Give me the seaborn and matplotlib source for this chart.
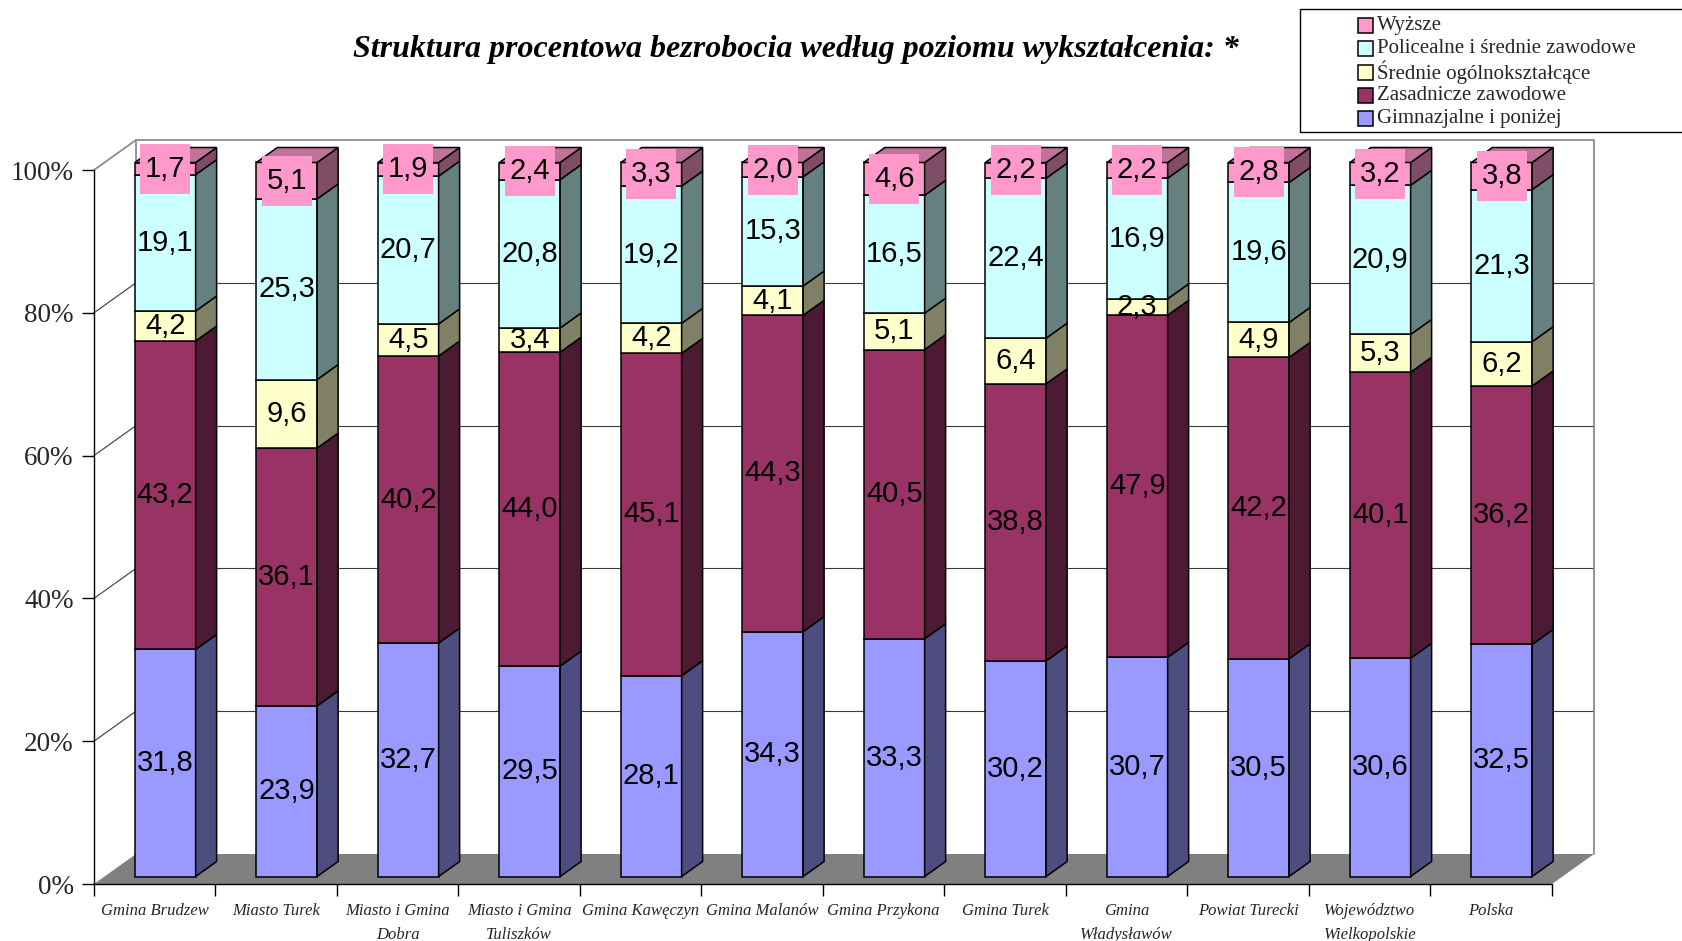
import numpy as np
import pandas as pd
import matplotlib
matplotlib.use("Agg")
import matplotlib.pyplot as plt
from matplotlib.patches import Polygon, Rectangle
from matplotlib.lines import Line2D
from matplotlib.transforms import ScaledTranslation
import seaborn as sns

# ---- data -----------------------------------------------------------------
categories = [
    "Gmina Brudzew", "Miasto Turek", "Miasto i Gmina\nDobra",
    "Miasto i Gmina\nTuliszków", "Gmina Kawęczyn", "Gmina Malanów",
    "Gmina Przykona", "Gmina Turek", "Gmina\nWładysławów",
    "Powiat Turecki", "Województwo\nWielkopolskie", "Polska",
]
gimnazjalne = [31.8, 23.9, 32.7, 29.5, 28.1, 34.3, 33.3, 30.2, 30.7, 30.5, 30.6, 32.5]
zasadnicze = [43.2, 36.1, 40.2, 44.0, 45.1, 44.3, 40.5, 38.8, 47.9, 42.2, 40.1, 36.2]
srednie_ogolne = [4.2, 9.6, 4.5, 3.4, 4.2, 4.1, 5.1, 6.4, 2.3, 4.9, 5.3, 6.2]
policealne = [19.1, 25.3, 20.7, 20.8, 19.2, 15.3, 16.5, 22.4, 16.9, 19.6, 20.9, 21.3]
wyzsze = [1.7, 5.1, 1.9, 2.4, 3.3, 2.0, 4.6, 2.2, 2.2, 2.8, 3.2, 3.8]

series_names = [
    "Gimnazjalne i poniżej", "Zasadnicze zawodowe", "Średnie ogólnokształcące",
    "Policealne i średnie zawodowe", "Wyższe",
]
series_values = [gimnazjalne, zasadnicze, srednie_ogolne, policealne, wyzsze]
y_ticks = [0, 20, 40, 60, 80, 100]
title = "Struktura procentowa bezrobocia według poziomu wykształcenia: *"

# ---- style ------------------------------------------------------------------
front_colors = ["#9999FF", "#993366", "#FFFFCC", "#CCFFFF", "#FF99CC"]
side_colors = ["#4D4D80", "#4D1A33", "#808066", "#668080", "#804D66"]
top_color = "#BF7399"
grid_color = "#3A3A3A"
wall_color = "#8C8C8C"
floor_color = "#808080"

sns.set_style("white")
plt.rcParams["font.family"] = ["Liberation Serif", "DejaVu Serif"]

W, H, DPI = 1683, 941, 100
fig = plt.figure(figsize=(W / DPI, H / DPI), dpi=DPI, facecolor="white")

# front plane of the plot in pixels (origin top-left)
AX_L, AX_R, AX_B, AX_T = 94, 1552, 884, 170
ax = fig.add_axes([AX_L / W, 1 - AX_B / H, (AX_R - AX_L) / W, (AX_B - AX_T) / H])
ax.patch.set_visible(False)

n = len(categories)
ux = (AX_R - AX_L) / n       # pixels per category
uy = (AX_B - AX_T) / 100.0   # pixels per percent


def px(dx, dy):
    """pixel offset -> data offset (dy positive = up)"""
    return dx / ux, dy / uy


wdx, wdy = px(42, 30)       # full depth of the chart box
fdx, fdy = px(10.5, 7.5)    # bar front face offset from front plane
bdx, bdy = px(21, 15)       # bar depth
bar_w = 0.5
lw_edge = 1.1

# ---- back wall, side wall, floor ----------------------------------------
x0, x1 = -0.5, n - 0.5
for v in y_ticks[1:-1]:
    ax.add_line(Line2D([x0 + wdx, x1 + wdx], [v + wdy, v + wdy], color=grid_color,
                       lw=0.8, zorder=0.5, clip_on=False))
    ax.add_line(Line2D([x0, x0 + wdx], [v, v + wdy], color=grid_color,
                       lw=0.8, zorder=0.5, clip_on=False))
ax.add_line(Line2D([x0, x0 + wdx, x1 + wdx, x1 + wdx],
                   [100, 100 + wdy, 100 + wdy, wdy], color=wall_color,
                   lw=1.3, zorder=0.6, clip_on=False))
ax.add_line(Line2D([x0 + wdx, x0 + wdx], [wdy, 100 + wdy], color=wall_color,
                   lw=1.3, zorder=0.6, clip_on=False))
ax.add_patch(Polygon([(x0, 0), (x1, 0), (x1 + wdx, wdy), (x0 + wdx, wdy)],
                     closed=True, fc=floor_color, ec="none", zorder=1, clip_on=False))

# ---- bars ----------------------------------------------------------------
values = np.array(series_values, dtype=float)
totals = values.sum(axis=0)
shares = values / totals * 100.0
shift = ax.transData + ScaledTranslation(10.5 / DPI, 7.5 / DPI, fig.dpi_scale_trans)

bottoms = np.zeros(n)
for k in range(len(series_names)):
    before = len(ax.patches)
    sns.barplot(x=categories, y=shares[k], order=categories, bottom=bottoms,
                color=front_colors[k], saturation=1, width=bar_w,
                edgecolor="black", linewidth=lw_edge, errorbar=None,
                ax=ax, zorder=3, clip_on=False)
    for p in ax.patches[before:]:
        p.set_transform(shift)
    tops = bottoms + shares[k]
    for i in range(n):
        xr = i + bar_w / 2 + fdx
        xl = i - bar_w / 2 + fdx
        yb, yt = bottoms[i] + fdy, tops[i] + fdy
        ax.add_patch(Polygon([(xr, yb), (xr, yt), (xr + bdx, yt + bdy), (xr + bdx, yb + bdy)],
                             closed=True, fc=side_colors[k], ec="black",
                             lw=lw_edge, zorder=3, clip_on=False))
        if k == len(series_names) - 1:
            ax.add_patch(Polygon([(xl, yt), (xr, yt), (xr + bdx, yt + bdy), (xl + bdx, yt + bdy)],
                                 closed=True, fc=top_color, ec="black",
                                 lw=lw_edge, zorder=3, clip_on=False))
    # value labels on the front faces
    for i in range(n):
        cx = i + fdx
        cy = (bottoms[i] + tops[i]) / 2 + fdy
        label = f"{values[k, i]:.1f}".replace(".", ",")
        if k == len(series_names) - 1:
            bw, bh = px(50, 50)
            ax.add_patch(Rectangle((cx - bw / 2, cy - bh / 2), bw, bh,
                                   fc=front_colors[k], ec="none", zorder=4, clip_on=False))
        ax.text(cx, cy, label, ha="center", va="center", fontsize=21,
                family=["Liberation Sans", "DejaVu Sans"], color="black",
                zorder=5, clip_on=False)
    bottoms = tops

# ---- axes ----------------------------------------------------------------
ax.set_xlim(x0, x1)
ax.set_ylim(0, 100)
ax.set_xlabel("")
ax.set_ylabel("")
for side in ["top", "right"]:
    ax.spines[side].set_visible(False)
for side in ["left", "bottom"]:
    ax.spines[side].set_color("black")
    ax.spines[side].set_linewidth(1.0)
    ax.spines[side].set_zorder(2)

ax.set_yticks(y_ticks, labels=[f"{v}%" for v in y_ticks])
ax.tick_params(axis="y", which="major", direction="out", length=8.6, width=1.0,
               color="black", pad=6, labelsize=19.5, left=True)
for t in ax.get_yticklabels():
    t.set_family(["Liberation Serif", "DejaVu Serif"])

ax.set_xticks(np.arange(x0, x1 + 0.01, 1.0), labels=[""] * (n + 1))
ax.set_xticks(np.arange(n), labels=categories, minor=True)
ax.tick_params(axis="x", which="major", direction="out", length=8.6, width=1.0,
               color="black", bottom=True)
ax.tick_params(axis="x", which="minor", length=0, pad=14, labelsize=12)
for t in ax.get_xticklabels(minor=True):
    t.set_family(["Liberation Serif", "DejaVu Serif"])
    t.set_style("italic")
    t.set_linespacing(1.6)

# ---- title ----------------------------------------------------------------
fig.text(796 / W, 1 - 49 / H, title, ha="center", va="center", fontsize=23,
         fontweight="bold", fontstyle="italic", color="black",
         family=["Liberation Serif", "DejaVu Serif"])

# ---- legend ---------------------------------------------------------------
fig.add_artist(Rectangle((1300 / W, 1 - 132 / H), (1700 - 1300) / W, (132 - 9) / H,
                         transform=fig.transFigure, fc="white", ec="black", lw=1.0))
row_y = [25.5, 48.5, 72, 95.5, 118.5]
for r, k in enumerate(range(len(series_names) - 1, -1, -1)):
    yc = row_y[r]
    fig.add_artist(Rectangle((1358 / W, 1 - (yc + 7.5) / H), 15 / W, 15 / H,
                             transform=fig.transFigure, fc=front_colors[k],
                             ec="black", lw=1.1))
    fig.text(1377 / W, 1 - yc / H, series_names[k], ha="left", va="center",
             fontsize=15, family=["Liberation Serif", "DejaVu Serif"])

fig.savefig("out.png", dpi=DPI, facecolor="white")
